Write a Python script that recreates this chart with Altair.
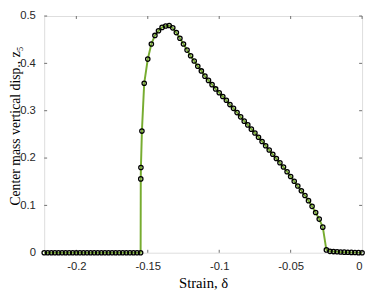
import altair as alt
import pandas as pd

# Strain values (x)
strain = [
    -0.2225, -0.2200, -0.2175, -0.2150, -0.2125, -0.2100, -0.2075, -0.2050, -0.2025, -0.2000,
    -0.1975, -0.1950, -0.1925, -0.1900, -0.1875, -0.1850, -0.1825, -0.1800, -0.1775, -0.1750,
    -0.1725, -0.1700, -0.1675, -0.1650, -0.1625, -0.1600, -0.1575, -0.1550,
    -0.1549, -0.1548, -0.1541,
    -0.1525, -0.1500, -0.1475, -0.1450, -0.1425, -0.1400, -0.1375, -0.1350,
    -0.1325, -0.1300, -0.1275, -0.1250, -0.1225, -0.1200, -0.1175, -0.1150, -0.1125, -0.1100,
    -0.1075, -0.1050, -0.1025, -0.1000, -0.0975, -0.0950, -0.0925, -0.0900, -0.0875, -0.0850,
    -0.0825, -0.0800, -0.0775, -0.0750, -0.0725, -0.0700, -0.0675, -0.0650, -0.0625, -0.0600,
    -0.0575, -0.0550, -0.0525, -0.0500, -0.0475, -0.0450, -0.0425, -0.0400, -0.0375, -0.0350,
    -0.0325, -0.0300, -0.0275,
    -0.0250, -0.0225, -0.0200, -0.0175, -0.0150, -0.0125, -0.0100, -0.0075, -0.0050, -0.0025, 0.0000,
]

# Center mass vertical displacement z5
disp = [
    0, 0, 0, 0, 0, 0, 0, 0, 0, 0,
    0, 0, 0, 0, 0, 0, 0, 0, 0, 0,
    0, 0, 0, 0, 0, 0, 0, 0,
    0.156, 0.180, 0.257,
    0.358, 0.409, 0.441, 0.459, 0.469, 0.476, 0.479, 0.480,
    0.475, 0.465, 0.453, 0.441, 0.428, 0.416, 0.405, 0.394, 0.384, 0.373,
    0.364, 0.355, 0.346, 0.338, 0.330, 0.322, 0.313, 0.305, 0.296, 0.287,
    0.278, 0.270, 0.261, 0.253, 0.244, 0.235, 0.226, 0.217, 0.208, 0.199,
    0.190, 0.181, 0.171, 0.161, 0.151, 0.141, 0.131, 0.121, 0.110, 0.098,
    0.085, 0.071, 0.054,
    0.006, 0.003, 0.0025, 0.002, 0.0015, 0.0012, 0.001, 0.0007, 0.0004, 0.0002, 0.0,
]

x_ticks = [-0.2, -0.15, -0.1, -0.05, 0]
y_ticks = [0, 0.1, 0.2, 0.3, 0.4, 0.5]

df = pd.DataFrame({"strain": strain, "z": disp})
dfx = pd.DataFrame({"strain": x_ticks})
dfy = pd.DataFrame({"z": y_ticks})

W, H = 325, 242
AX = "#6e6e6e"

xscale = alt.Scale(domain=[-0.2225, 0], nice=False, zero=False)
yscale = alt.Scale(domain=[0, 0.5], nice=False, zero=False)

xaxis = alt.Axis(values=x_ticks, labelExpr="toString(datum.value)", ticks=False, domain=False,
                 grid=False, labelPadding=8, labelFont="Liberation Sans", labelFontSize=11.5,
                 labelColor="#262626", title="Strain, δ", titleFont="Liberation Serif",
                 titleFontSize=15, titleFontWeight="normal", titleColor="#000000", titlePadding=4)
yaxis = alt.Axis(values=y_ticks, labelExpr="toString(datum.value)", ticks=False, domain=False,
                 grid=False, labelPadding=9, labelFont="Liberation Sans", labelFontSize=11.5,
                 labelColor="#262626", title="Center mass vertical disp., z₅",
                 titleFont="Liberation Serif", titleFontSize=14, titleFontWeight="normal",
                 titleColor="#000000", titleX=-29, titleY=112, titleAngle=270,
                 titleAlign="center", titleBaseline="middle")

X = alt.X("strain:Q", scale=xscale, axis=xaxis)
Y = alt.Y("z:Q", scale=yscale, axis=yaxis)

line = alt.Chart(df).mark_line(color="#77AC30", strokeWidth=2).encode(x=X, y=Y)
pts = alt.Chart(df).mark_point(shape="circle", filled=False, color="black", size=20,
                               strokeWidth=1.3, opacity=1).encode(x=X, y=Y)

tb = alt.Chart(dfx).mark_rule(color=AX, strokeWidth=1).encode(x=X, y=alt.value(H), y2=alt.value(H - 3))
tt = alt.Chart(dfx).mark_rule(color=AX, strokeWidth=1).encode(x=X, y=alt.value(0), y2=alt.value(3))
tl = alt.Chart(dfy).mark_rule(color=AX, strokeWidth=1).encode(y=Y, x=alt.value(0), x2=alt.value(3))
tr = alt.Chart(dfy).mark_rule(color=AX, strokeWidth=1).encode(y=Y, x=alt.value(W), x2=alt.value(W - 3))

chart = alt.layer(tb, tt, tl, tr, line, pts).properties(
    width=W, height=H,
    autosize=alt.AutoSizeParams(type="none"),
    padding={"left": 37, "top": 5, "right": 4, "bottom": 40},
).configure_view(stroke=AX, strokeWidth=1).configure(background="white")

chart.save("out.html", embed_options={"renderer": "svg", "actions": False})
